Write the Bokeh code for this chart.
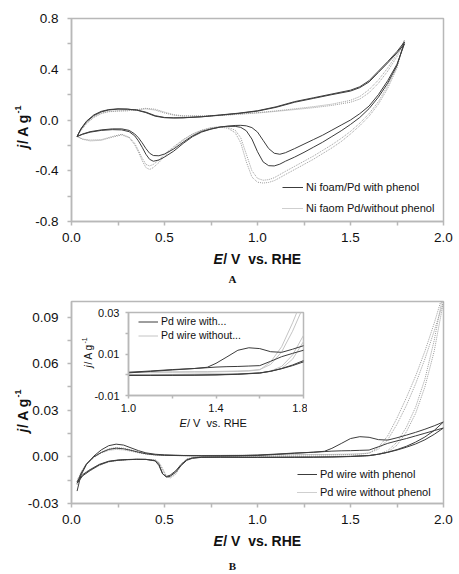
from math import pi

from bokeh.embed import file_html
from bokeh.layouts import column
from bokeh.models import (CustomJSTickFormatter, FixedTicker, Label, Legend,
                          LegendItem, Range1d)
from bokeh.plotting import figure
from bokeh.resources import INLINE

# ---------------------------------------------------------------- panel A data
# Ni foam/Pd, potentials in V vs. RHE, current density in A g-1
A_E_UP = [0.03, 0.05, 0.08, 0.12, 0.16, 0.2, 0.25, 0.3, 0.35, 0.4, 0.45, 0.5,
          0.55, 0.6, 0.7, 0.8, 0.9, 1.0, 1.1, 1.2, 1.3, 1.4, 1.5, 1.55, 1.6,
          1.65, 1.7, 1.75, 1.79]
A_E_DOWN = [1.79, 1.75, 1.7, 1.65, 1.6, 1.55, 1.5, 1.45, 1.4, 1.35, 1.3, 1.25,
            1.2, 1.15, 1.12, 1.09, 1.06, 1.03, 1.0, 0.97, 0.94, 0.91, 0.88,
            0.84, 0.8, 0.75, 0.7, 0.65, 0.6, 0.55, 0.5, 0.47, 0.44, 0.42, 0.4,
            0.38, 0.36, 0.34, 0.31, 0.27, 0.22, 0.16, 0.1, 0.06, 0.03]

A_with_up_1 = [-0.13, -0.07, -0.01, 0.04, 0.068, 0.082, 0.088, 0.086, 0.078,
               0.058, 0.03, 0.018, 0.016, 0.017, 0.025, 0.038, 0.052, 0.07,
               0.1, 0.14, 0.17, 0.2, 0.228, 0.255, 0.3, 0.375, 0.45, 0.53, 0.6]
A_with_up_2 = [-0.13, -0.075, -0.015, 0.035, 0.064, 0.079, 0.086, 0.085, 0.079,
               0.062, 0.034, 0.02, 0.017, 0.018, 0.026, 0.04, 0.054, 0.073,
               0.104, 0.145, 0.175, 0.205, 0.235, 0.262, 0.31, 0.385, 0.46,
               0.54, 0.615]
A_with_down_1 = [0.6, 0.44, 0.31, 0.2, 0.11, 0.05, 0.0, -0.04, -0.08, -0.12,
                 -0.155, -0.19, -0.225, -0.258, -0.27, -0.262, -0.225, -0.16,
                 -0.095, -0.06, -0.046, -0.042, -0.043, -0.048, -0.055, -0.07,
                 -0.09, -0.125, -0.175, -0.228, -0.268, -0.282, -0.28, -0.262,
                 -0.225, -0.18, -0.14, -0.11, -0.082, -0.07, -0.07, -0.078,
                 -0.092, -0.11, -0.13]
A_with_down_2 = [0.615, 0.43, 0.29, 0.18, 0.09, 0.02, -0.035, -0.085, -0.13,
                 -0.175, -0.215, -0.255, -0.292, -0.325, -0.348, -0.362, -0.36,
                 -0.33, -0.25, -0.15, -0.085, -0.058, -0.05, -0.05, -0.056,
                 -0.072, -0.095, -0.132, -0.185, -0.245, -0.292, -0.315,
                 -0.325, -0.31, -0.27, -0.215, -0.165, -0.125, -0.092, -0.078,
                 -0.076, -0.082, -0.096, -0.113, -0.13]

A_without_up_1 = [-0.13, -0.08, -0.025, 0.025, 0.055, 0.068, 0.073, 0.074,
                  0.08, 0.088, 0.078, 0.055, 0.038, 0.03, 0.03, 0.035, 0.045,
                  0.055, 0.068, 0.082, 0.097, 0.115, 0.14, 0.165, 0.215, 0.29,
                  0.385, 0.5, 0.62]
A_without_up_2 = [-0.13, -0.085, -0.03, 0.02, 0.05, 0.065, 0.07, 0.072, 0.082,
                  0.092, 0.085, 0.062, 0.042, 0.033, 0.032, 0.037, 0.047,
                  0.058, 0.072, 0.088, 0.105, 0.125, 0.155, 0.185, 0.24,
                  0.315, 0.41, 0.52, 0.63]
A_without_down_1 = [0.62, 0.42, 0.27, 0.145, 0.05, -0.025, -0.09, -0.145,
                    -0.195, -0.24, -0.285, -0.325, -0.365, -0.405, -0.43,
                    -0.455, -0.47, -0.475, -0.46, -0.4, -0.27, -0.14, -0.08,
                    -0.058, -0.052, -0.06, -0.08, -0.11, -0.155, -0.21, -0.27,
                    -0.315, -0.35, -0.362, -0.35, -0.3, -0.24, -0.185, -0.135,
                    -0.112, -0.13, -0.155, -0.158, -0.15, -0.13]
A_without_down_2 = [0.63, 0.41, 0.25, 0.125, 0.03, -0.045, -0.11, -0.17, -0.22,
                    -0.265, -0.31, -0.35, -0.39, -0.43, -0.455, -0.478, -0.492,
                    -0.497, -0.49, -0.45, -0.33, -0.18, -0.1, -0.065, -0.055,
                    -0.062, -0.082, -0.113, -0.16, -0.218, -0.285, -0.335,
                    -0.375, -0.39, -0.375, -0.32, -0.255, -0.195, -0.14,
                    -0.118, -0.135, -0.16, -0.165, -0.152, -0.13]

# ---------------------------------------------------------------- panel B data
# Pd wire, potentials in V vs. RHE, current density in A g-1
B_E_UP = [0.03, 0.05, 0.08, 0.12, 0.16, 0.2, 0.24, 0.28, 0.32, 0.36, 0.4, 0.45,
          0.5, 0.6, 0.7, 0.8, 0.9, 1.0, 1.1, 1.2, 1.3, 1.36, 1.4, 1.45, 1.5,
          1.55, 1.6, 1.65, 1.7, 1.75, 1.8, 1.85, 1.9, 1.95, 2.0]
B_E_DOWN = [2.0, 1.95, 1.9, 1.85, 1.8, 1.75, 1.7, 1.65, 1.6, 1.5, 1.4, 1.3,
            1.2, 1.1, 1.0, 0.9, 0.8, 0.7, 0.65, 0.62, 0.59, 0.56, 0.53, 0.51,
            0.49, 0.47, 0.45, 0.4, 0.35, 0.3, 0.25, 0.2, 0.15, 0.1, 0.06, 0.03]

B_with_up_1 = [-0.022, -0.012, -0.005, 0.0005, 0.0045, 0.0072, 0.0082, 0.0076,
               0.0058, 0.004, 0.0026, 0.0017, 0.0013, 0.0009, 0.0007, 0.0007,
               0.0008, 0.0009, 0.0016, 0.0023, 0.003, 0.0036, 0.0055, 0.0086,
               0.0118, 0.013, 0.0126, 0.0111, 0.0108, 0.0123, 0.014, 0.0158,
               0.0178, 0.02, 0.0225]
B_with_up_2 = [-0.017, -0.011, -0.0045, 0.0, 0.0028, 0.0048, 0.0056, 0.0052,
               0.0042, 0.003, 0.002, 0.0013, 0.001, 0.0008, 0.0007, 0.0007,
               0.0008, 0.0012, 0.0018, 0.0025, 0.003, 0.0034, 0.0037, 0.0039,
               0.004, 0.0042, 0.0044, 0.0065, 0.0087, 0.0103, 0.0118, 0.0135,
               0.0152, 0.0169, 0.0186]
B_with_down_1 = [0.0225, 0.017, 0.0128, 0.0095, 0.0068, 0.0047, 0.003, 0.0017,
                 0.0008, 0.0002, -0.0001, -0.0002, -0.0003, -0.0003, -0.0003,
                 -0.0003, -0.0002, -0.0003, -0.0009, -0.0022, -0.0055, -0.0098,
                 -0.0125, -0.013, -0.0108, -0.0048, -0.0024, -0.0016, -0.0016,
                 -0.0018, -0.0022, -0.003, -0.0052, -0.0088, -0.0122, -0.017]
B_with_down_2 = [0.0186, 0.0145, 0.011, 0.0083, 0.0062, 0.0044, 0.0029,
                 0.0017, 0.0009, 0.0003, 0.0, -0.0002, -0.0002, -0.0003,
                 -0.0003, -0.0002, -0.0002, -0.0002, -0.0007, -0.0018, -0.0048,
                 -0.009, -0.0118, -0.0126, -0.011, -0.0055, -0.0026, -0.0016,
                 -0.0015, -0.0017, -0.002, -0.0028, -0.0048, -0.0082, -0.0115,
                 -0.016]

B_without_up_1 = [-0.018, -0.011, -0.005, -0.0005, 0.0025, 0.0042, 0.0048,
                  0.0045, 0.0036, 0.0026, 0.0018, 0.0012, 0.001, 0.0008,
                  0.0008, 0.0009, 0.001, 0.0011, 0.0012, 0.0012, 0.0013,
                  0.0013, 0.0014, 0.0015, 0.0016, 0.0018, 0.0024, 0.0062,
                  0.0135, 0.025, 0.038, 0.052, 0.068, 0.086, 0.106]
B_without_up_2 = [-0.016, -0.01, -0.0045, 0.0, 0.0032, 0.0052, 0.006, 0.0056,
                  0.0045, 0.0032, 0.0022, 0.0015, 0.0012, 0.001, 0.0009, 0.001,
                  0.0011, 0.0012, 0.0013, 0.0014, 0.0015, 0.0015, 0.0016,
                  0.0017, 0.0018, 0.002, 0.0025, 0.005, 0.011, 0.021, 0.033,
                  0.047, 0.063, 0.081, 0.1]
B_without_down_1 = [0.106, 0.075, 0.05, 0.032, 0.019, 0.0095, 0.004, 0.0018,
                    0.0008, 0.0004, 0.0003, 0.0002, 0.0001, 0.0001, 0.0, 0.0,
                    0.0, -0.0002, -0.0005, -0.0015, -0.0055, -0.0112, -0.0137,
                    -0.0122, -0.0075, -0.0035, -0.0019, -0.0017, -0.0016,
                    -0.0018, -0.0023, -0.0033, -0.0055, -0.0088, -0.0118,
                    -0.0155]
B_without_down_2 = [0.1, 0.068, 0.045, 0.028, 0.016, 0.0075, 0.003, 0.0016,
                    0.0008, 0.0005, 0.0004, 0.0003, 0.0002, 0.0002, 0.0001,
                    0.0001, 0.0, -0.0002, -0.0005, -0.0013, -0.0045, -0.0102,
                    -0.0131, -0.0128, -0.0085, -0.0038, -0.002, -0.0017,
                    -0.0016, -0.0018, -0.0022, -0.003, -0.005, -0.0082, -0.011,
                    -0.0145]

# ------------------------------------------------------------------ tick marks
A_X_TICKS = [0.0, 0.25, 0.5, 0.75, 1.0, 1.25, 1.5, 1.75, 2.0]
A_Y_TICKS = [-0.8, -0.6, -0.4, -0.2, 0.0, 0.2, 0.4, 0.6, 0.8]
B_Y_TICKS = [-0.03, -0.015, 0.0, 0.015, 0.03, 0.045, 0.06, 0.075, 0.09]
INSET_X_TICKS = [1.0, 1.2, 1.4, 1.6, 1.8]
INSET_Y_TICKS = [-0.01, 0.0, 0.01, 0.02, 0.03]

# ---------------------------------------------------------------------- style
FONT = "Liberation Sans"
SERIF = "Liberation Serif"
AXIS_GREY = "#b8b8b8"
TEXT = "#111111"
DARK = "#3c3c3c"
LIGHT = "#9e9e9e"
INSET_LIGHT = "#c4c4c4"


def labelled_every(step, offset, digits):
    """Show a label only on every n-th tick; the others stay bare."""
    return CustomJSTickFormatter(
        args=dict(step=step, offset=offset, digits=digits),
        code="""
            const k = (tick - offset) / step;
            if (Math.abs(k - Math.round(k)) > 1e-6) { return ""; }
            return tick.toFixed(digits);
        """)


def style_axes(p, size, tick_out, x_standoff, y_standoff):
    for ax, standoff in ((p.xaxis[0], x_standoff), (p.yaxis[0], y_standoff)):
        ax.axis_line_color = AXIS_GREY
        ax.axis_line_width = 1.5
        ax.major_tick_line_color = AXIS_GREY
        ax.major_tick_line_width = 1.5
        ax.major_tick_out = tick_out
        ax.major_tick_in = 0
        ax.minor_tick_line_color = None
        ax.major_label_text_font = FONT
        ax.major_label_text_font_size = size
        ax.major_label_text_color = TEXT
        ax.major_label_standoff = standoff
    p.outline_line_color = AXIS_GREY
    p.outline_line_width = 1.5
    p.xgrid.visible = False
    p.ygrid.visible = False


def draw_loops(p, e_up, e_down, loops, color, dash, width=1.0):
    rs = []
    for up, down in loops:
        rs.append(p.line(e_up + e_down, up + down, line_color=color,
                         line_width=width, line_dash=dash))
    return rs


def add_legend(p, entries, loc, glyph_w, row_h, spacing, size):
    legend = Legend(items=[LegendItem(label=lab, renderers=[r])
                           for lab, r in entries],
                    location=loc, orientation="vertical",
                    glyph_width=glyph_w, glyph_height=row_h,
                    label_height=row_h, spacing=spacing, padding=0, margin=0,
                    label_standoff=3, label_text_font=FONT,
                    label_text_font_size=size, label_text_color=TEXT,
                    border_line_color=None, background_fill_alpha=0)
    p.add_layout(legend)


# -------------------------------------------------------------------- panel A
pA = figure(width=459, height=287, x_range=Range1d(0, 2),
            y_range=Range1d(-0.8, 0.8), output_backend="svg",
            toolbar_location=None, min_border_left=71, min_border_right=15,
            min_border_top=18, min_border_bottom=66)
style_axes(pA, "13.5px", 4, 7, 9)
pA.xaxis.ticker = FixedTicker(ticks=A_X_TICKS)
pA.yaxis.ticker = FixedTicker(ticks=A_Y_TICKS)
pA.xaxis.formatter = labelled_every(0.5, 0.0, 1)
pA.yaxis.formatter = labelled_every(0.4, 0.0, 1)

a_without = draw_loops(pA, A_E_UP, A_E_DOWN,
                       [(A_without_up_1, A_without_down_1),
                        (A_without_up_2, A_without_down_2)], LIGHT, "1 1")
a_with = draw_loops(pA, A_E_UP, A_E_DOWN,
                    [(A_with_up_1, A_with_down_1),
                     (A_with_up_2, A_with_down_2)], DARK, "solid")
add_legend(pA, [("Ni foam/Pd with phenol", a_with[0]),
                ("Ni faom Pd/without phenol", a_without[0])],
           (211, 5), 21, 16, 5, "11px")

# -------------------------------------------------------------------- panel B
pB = figure(width=459, height=287, x_range=Range1d(0, 2),
            y_range=Range1d(-0.03, 0.1), output_backend="svg",
            toolbar_location=None, min_border_left=71, min_border_right=16,
            min_border_top=14, min_border_bottom=71)
style_axes(pB, "13.5px", 4, 7, 9)
pB.xaxis.ticker = FixedTicker(ticks=A_X_TICKS)
pB.yaxis.ticker = FixedTicker(ticks=B_Y_TICKS)
pB.xaxis.formatter = labelled_every(0.5, 0.0, 1)
pB.yaxis.formatter = labelled_every(0.03, 0.0, 2)

b_loops_without = [(B_without_up_1, B_without_down_1),
                   (B_without_up_2, B_without_down_2)]
b_loops_with = [(B_with_up_1, B_with_down_1), (B_with_up_2, B_with_down_2)]
b_without = draw_loops(pB, B_E_UP, B_E_DOWN, b_loops_without, LIGHT, "1 1")
b_with = draw_loops(pB, B_E_UP, B_E_DOWN, b_loops_with, DARK, "solid")
add_legend(pB, [("Pd wire with phenol", b_with[0]),
                ("Pd wire without phenol", b_without[0])],
           (226, 4), 20, 14, 4, "11px")

# ---------------------------------------------------------------- inset of B
inset = figure(width=227, height=125, x_range=Range1d(1.0, 1.8),
               y_range=Range1d(-0.01, 0.03), output_backend="svg",
               toolbar_location=None, min_border_left=48, min_border_right=4,
               min_border_top=7, min_border_bottom=35)
style_axes(inset, "11px", 3, 5, 6)
inset.xaxis.ticker = FixedTicker(ticks=INSET_X_TICKS)
inset.yaxis.ticker = FixedTicker(ticks=INSET_Y_TICKS)
inset.xaxis.formatter = labelled_every(0.4, 1.0, 1)
inset.yaxis.formatter = labelled_every(0.02, -0.01, 2)
inset.background_fill_alpha = 0
inset.border_fill_alpha = 0

i_without = draw_loops(inset, B_E_UP, B_E_DOWN, b_loops_without, INSET_LIGHT,
                       "solid")
i_with = draw_loops(inset, B_E_UP, B_E_DOWN, b_loops_with, DARK, "solid")
add_legend(inset, [("Pd wire with...", i_with[0]),
                   ("Pd wire without...", i_without[0])],
           (10, 54), 20, 11, 2, "10.5px")
inset.styles = {"position": "absolute", "left": "80px", "top": "305px"}

# ------------------------------------------------- axis titles and panel tags
# A transparent sheet over the page whose ranges are page pixels (y downward),
# so titles with mixed italic / bold pieces can sit beside the axes.
sheet = figure(width=459, height=574, x_range=Range1d(0, 459),
               y_range=Range1d(574, 0), output_backend="svg",
               toolbar_location=None, x_axis_location=None,
               y_axis_location=None, min_border=0)
sheet.grid.visible = False
sheet.outline_line_color = None
sheet.background_fill_alpha = 0
sheet.border_fill_alpha = 0
sheet.styles = {"position": "absolute", "left": "0px", "top": "0px",
                "pointer-events": "none"}


def text(x, y, s, size, style="bold", font=FONT, angle=0.0, align="left"):
    sheet.add_layout(Label(x=x, y=y, text=s, text_font=font,
                           text_font_size=size, text_font_style=style,
                           text_color=TEXT, angle=angle, text_align=align,
                           text_baseline="middle"))


def y_title(x, y0, size, sup_size, style, j_w, rest_w, sup_dx):
    """Rotated 'j/ A g-1' assembled from pieces, reading bottom to top."""
    italic = "bold italic" if style == "bold" else "italic"
    text(x, y0, "j", size, italic, angle=pi / 2)
    text(x, y0 - j_w, "/ A g", size, style, angle=pi / 2)
    text(x - sup_dx, y0 - j_w - rest_w, "-1", sup_size, style, angle=pi / 2)


def x_title(x0, y, size, style, e_w):
    italic = "bold italic" if style == "bold" else "italic"
    text(x0, y, "E", size, italic)
    text(x0 + e_w, y, "/ V \u00a0vs. RHE", size, style)


y_title(22, 148, "14px", "9px", "bold", 4.5, 30.5, 5)
x_title(213, 258, "14px", "bold", 9.8)
text(232, 278, "A", "11px", "bold", font=SERIF, align="center")

y_title(22, 432, "14px", "9px", "bold", 4.5, 30.5, 5)
x_title(213, 540, "14px", "bold", 9.8)
text(232, 565, "B", "11px", "bold", font=SERIF, align="center")

y_title(88, 367, "10px", "7px", "normal", 3, 21, 4)
x_title(179, 422, "11px", "normal", 7.5)

panels = column(pA, pB)

open("out.html", "w").write(file_html([panels, inset, sheet], INLINE))
